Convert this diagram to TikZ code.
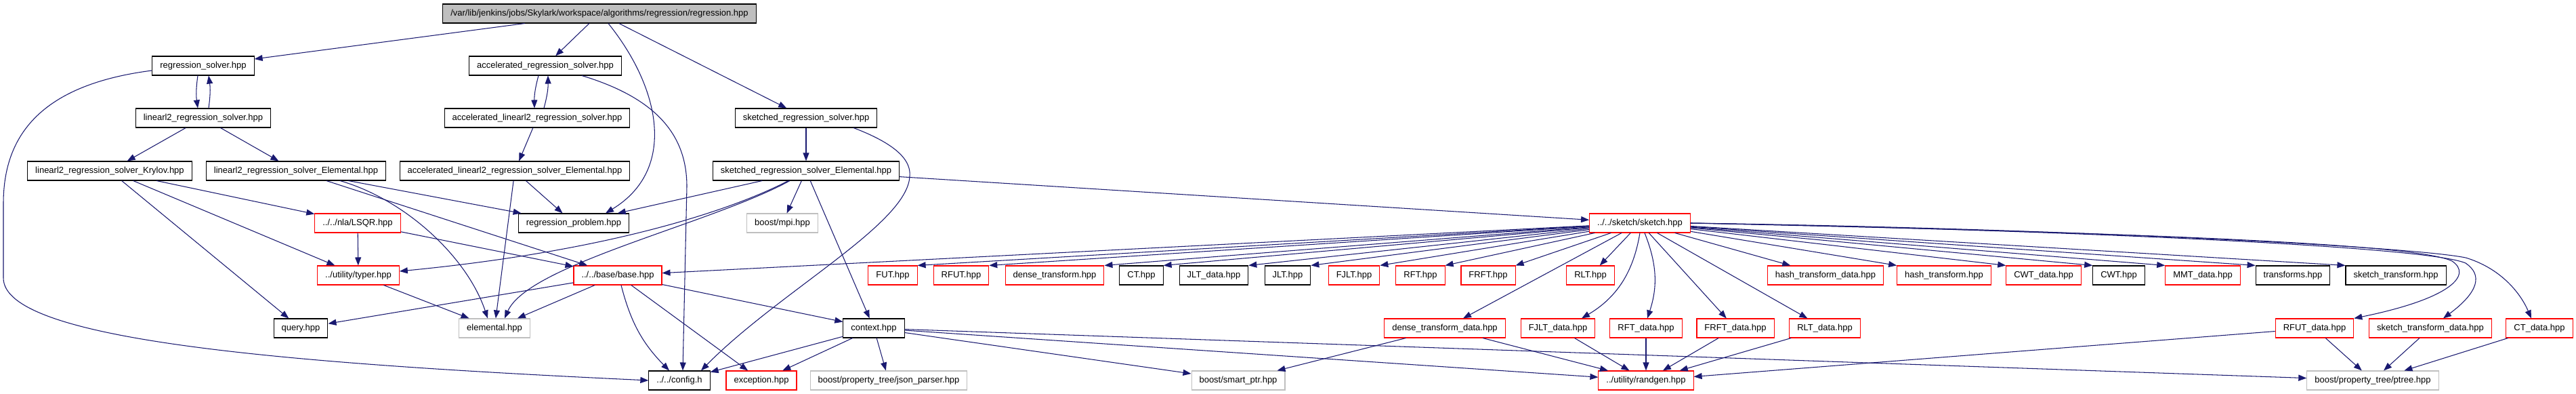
\documentclass[tikz,border=0pt]{standalone}
\usepackage{fontspec}
\setmainfont{Liberation Sans}
\usepackage{tikz}
\usetikzlibrary{arrows.meta}
\definecolor{IGEdge}{HTML}{191970}
\definecolor{IGRed}{HTML}{FF0000}
\definecolor{IGGray}{HTML}{BFBFBF}
\tikzset{
  hdr/.style={draw=black,fill=white,line width=0.3pt,inner xsep=0.115cm,inner ysep=0pt,minimum height=0.28cm,font=\fontsize{3.7}{4.4}\selectfont},
  hdrred/.style={hdr,draw=IGRed},
  hdrgray/.style={hdr,draw=IGGray},
  hdrtop/.style={hdr,fill=IGGray},
  incl/.style={draw=IGEdge,line width=0.3pt,-{Triangle[length=0.12cm,width=0.09cm]}}
}
\begin{document}
\begin{tikzpicture}[x=1cm,y=1cm]
\fill[white] (0,0) rectangle (38.03,5.81);
\path[use as bounding box] (0,0) rectangle (38.03,5.81);
\node[hdrtop] (regression) at (8.85,5.61) {/var/lib/jenkins/jobs/Skylark/workspace/algorithms/regression/regression.hpp};
\node[hdr] (rsolver) at (3.00,4.84) {regression\_solver.hpp};
\node[hdr] (arsolver) at (8.05,4.84) {accelerated\_regression\_solver.hpp};
\node[hdr] (lsolver) at (3.00,4.07) {linearl2\_regression\_solver.hpp};
\node[hdr] (alsolver) at (7.93,4.07) {accelerated\_linearl2\_regression\_solver.hpp};
\node[hdr] (ssolver) at (11.90,4.07) {sketched\_regression\_solver.hpp};
\node[hdr] (krylov) at (1.62,3.29) {linearl2\_regression\_solver\_Krylov.hpp};
\node[hdr] (lelem) at (4.37,3.29) {linearl2\_regression\_solver\_Elemental.hpp};
\node[hdr] (alelem) at (7.60,3.29) {accelerated\_linearl2\_regression\_solver\_Elemental.hpp};
\node[hdr] (selem) at (11.90,3.29) {sketched\_regression\_solver\_Elemental.hpp};
\node[hdrred] (lsqr) at (5.28,2.52) {../../nla/LSQR.hpp};
\node[hdr] (problem) at (8.47,2.52) {regression\_problem.hpp};
\node[hdrgray] (mpi) at (11.55,2.52) {boost/mpi.hpp};
\node[hdrred] (sketch) at (24.21,2.52) {../../sketch/sketch.hpp};
\node[hdrred] (typer) at (5.29,1.75) {../utility/typer.hpp};
\node[hdrred] (base) at (9.12,1.75) {../../base/base.hpp};
\node[hdrred] (fut) at (13.18,1.75) {FUT.hpp};
\node[hdrred] (rfut) at (14.19,1.75) {RFUT.hpp};
\node[hdrred] (dtrans) at (15.57,1.75) {dense\_transform.hpp};
\node[hdr] (ct) at (16.85,1.75) {CT.hpp};
\node[hdr] (jltdata) at (17.92,1.75) {JLT\_data.hpp};
\node[hdr] (jlt) at (19.01,1.75) {JLT.hpp};
\node[hdrred] (fjlt) at (19.99,1.75) {FJLT.hpp};
\node[hdrred] (rft) at (20.97,1.75) {RFT.hpp};
\node[hdrred] (frft) at (21.97,1.75) {FRFT.hpp};
\node[hdrred] (rlt) at (23.48,1.75) {RLT.hpp};
\node[hdrred] (hashdata) at (26.95,1.75) {hash\_transform\_data.hpp};
\node[hdrred] (hash) at (28.70,1.75) {hash\_transform.hpp};
\node[hdrred] (cwtdata) at (30.17,1.75) {CWT\_data.hpp};
\node[hdr] (cwt) at (31.28,1.75) {CWT.hpp};
\node[hdrred] (mmtdata) at (32.52,1.75) {MMT\_data.hpp};
\node[hdr] (transforms) at (33.85,1.75) {transforms.hpp};
\node[hdr] (sktrans) at (35.37,1.75) {sketch\_transform.hpp};
\node[hdr] (query) at (4.44,0.97) {query.hpp};
\node[hdrgray] (elemental) at (7.30,0.97) {elemental.hpp};
\node[hdr] (context) at (12.90,0.97) {context.hpp};
\node[hdrred] (dtdata) at (21.33,0.97) {dense\_transform\_data.hpp};
\node[hdrred] (fjltdata) at (23.00,0.97) {FJLT\_data.hpp};
\node[hdrred] (rftdata) at (24.30,0.97) {RFT\_data.hpp};
\node[hdrred] (frftdata) at (25.62,0.97) {FRFT\_data.hpp};
\node[hdrred] (rltdata) at (26.94,0.97) {RLT\_data.hpp};
\node[hdrred] (rfutdata) at (34.17,0.97) {RFUT\_data.hpp};
\node[hdrred] (stdata) at (35.88,0.97) {sketch\_transform\_data.hpp};
\node[hdrred] (ctdata) at (37.49,0.97) {CT\_data.hpp};
\node[hdr] (config) at (10.03,0.20) {../../config.h};
\node[hdrred] (exception) at (11.24,0.20) {exception.hpp};
\node[hdrgray] (json) at (13.12,0.20) {boost/property\_tree/json\_parser.hpp};
\node[hdrgray] (smartptr) at (18.28,0.20) {boost/smart\_ptr.hpp};
\node[hdrred] (randgen) at (24.30,0.20) {../utility/randgen.hpp};
\node[hdrgray] (ptree) at (35.03,0.20) {boost/property\_tree/ptree.hpp};
\draw[incl] (regression) -- (rsolver);
\draw[incl] (regression) -- (arsolver);
\draw[incl] ([xshift=0.13cm]regression.south) .. controls (9.75,4.51) and (10.00,3.31) .. ([xshift=0.47cm]problem.north);
\draw[incl] (regression) -- (ssolver);
\draw[incl] ([xshift=-0.08cm]rsolver.south) to[bend right=8] ([xshift=-0.08cm]lsolver.north);
\draw[incl] ([xshift=0.08cm]lsolver.north) to[bend right=8] ([xshift=0.08cm]rsolver.south);
\draw[incl] ([yshift=-0.07cm]rsolver.west) .. controls (0.60,4.56) and (0.05,3.81) .. (0.05,2.81) -- (0.05,1.71) .. controls (0.05,0.81) and (4.00,0.46) .. (config.west);
\draw[incl] (lsolver) -- (krylov);
\draw[incl] (lsolver) -- (lelem);
\draw[incl] (krylov) -- (lsqr);
\draw[incl] (krylov) -- (typer);
\draw[incl] (krylov) -- (query);
\draw[incl] (lelem) -- (problem);
\draw[incl] (lelem) -- (base);
\draw[incl] ([xshift=0.65cm]lelem.south) .. controls (6.00,2.86) and (6.90,2.01) .. ([xshift=-0.10cm]elemental.north);
\draw[incl] (lsqr) -- (typer);
\draw[incl] (lsqr) -- (base);
\draw[incl] (typer) -- (elemental);
\draw[incl] ([xshift=-0.10cm]arsolver.south) to[bend right=8] ([xshift=-0.04cm]alsolver.north);
\draw[incl] ([xshift=0.10cm]alsolver.north) to[bend right=8] ([xshift=0.04cm]arsolver.south);
\draw[incl] ([xshift=0.54cm]arsolver.south) .. controls (9.70,4.36) and (10.14,3.81) .. (10.14,3.06) -- ([xshift=0.05cm]config.north);
\draw[incl] (alsolver) -- (alelem);
\draw[incl] (alelem) -- (problem);
\draw[incl] (alelem) -- (elemental);
\draw[incl] (ssolver) -- (selem);
\draw[incl] ([xshift=0.70cm]ssolver.south) .. controls (13.30,3.66) and (13.45,3.41) .. (13.43,3.21) .. controls (13.40,2.51) and (11.50,1.51) .. ([xshift=0.32cm]config.north);
\draw[incl] (selem) -- (problem);
\draw[incl] ([xshift=-0.26cm]selem.south) .. controls (10.80,2.71) and (9.00,2.11) .. ([yshift=0.06cm]typer.east);
\draw[incl] ([xshift=-0.24cm]selem.south) .. controls (10.50,2.51) and (7.80,1.91) .. ([xshift=0.15cm]elemental.north);
\draw[incl] (selem) -- (mpi);
\draw[incl] (selem) -- (context);
\draw[incl] (selem) -- (sketch);
\draw[incl] (base) -- (query);
\draw[incl] (base) -- (elemental);
\draw[incl] ([xshift=0.05cm]base.south) to[bend right=15] ([xshift=-0.15cm]config.north);
\draw[incl] (base) -- (exception);
\draw[incl] (base) -- (context);
\draw[incl] (context) -- (config);
\draw[incl] (context) -- (exception);
\draw[incl] (context) -- (json);
\draw[incl] (context) -- (smartptr);
\draw[incl] (context) -- (randgen);
\draw[incl] (context) -- (ptree);
\draw[incl] (sketch) -- (base);
\draw[incl] (sketch) -- (fut.north east);
\draw[incl] (sketch) -- (rfut.north east);
\draw[incl] (sketch) -- (dtrans.north east);
\draw[incl] (sketch) -- (ct.north east);
\draw[incl] (sketch) -- (jltdata.north east);
\draw[incl] (sketch) -- (jlt.north east);
\draw[incl] (sketch) -- (fjlt.north east);
\draw[incl] (sketch) -- (rft.north east);
\draw[incl] (sketch) -- (frft.north east);
\draw[incl] (sketch) -- (rlt);
\draw[incl] (sketch) -- (dtdata);
\draw[incl] (sketch.south) to[bend left=25] ([xshift=0.35cm]fjltdata.north);
\draw[incl] ([xshift=0.07cm]sketch.south) to[bend left=20] ([xshift=0.02cm]rftdata.north);
\draw[incl] (sketch) -- (frftdata);
\draw[incl] (sketch) -- (rltdata);
\draw[incl] (sketch) -- (hashdata);
\draw[incl] (sketch) -- (hash.north west);
\draw[incl] (sketch) -- (cwtdata.north west);
\draw[incl] (sketch) -- (cwt.north west);
\draw[incl] (sketch) -- (mmtdata.north west);
\draw[incl] (sketch) -- (transforms.north west);
\draw[incl] (sketch) -- (sktrans.north west);
\draw[incl] (sketch.east) .. controls (30.00,2.41) and (35.60,2.26) .. (36.20,1.96) .. controls (36.50,1.76) and (36.20,1.41) .. (rfutdata.north east);
\draw[incl] (sketch.east) .. controls (30.00,2.43) and (35.80,2.19) .. (36.40,1.93) .. controls (36.65,1.76) and (36.60,1.51) .. ([xshift=0.19cm]stdata.north);
\draw[incl] (sketch.east) .. controls (30.00,2.45) and (35.50,2.19) .. (36.40,2.01) .. controls (36.90,1.86) and (37.20,1.51) .. ([xshift=-0.12cm]ctdata.north);
\draw[incl] (dtdata) -- (randgen);
\draw[incl] (dtdata) -- (smartptr);
\draw[incl] (fjltdata) -- (randgen);
\draw[incl] (rftdata) -- (randgen);
\draw[incl] (frftdata) -- (randgen);
\draw[incl] (rltdata) -- (randgen);
\draw[incl] (rfutdata) -- (randgen);
\draw[incl] (rfutdata) -- (ptree);
\draw[incl] (stdata) -- (ptree);
\draw[incl] (ctdata) -- (ptree);
\end{tikzpicture}
\end{document}
